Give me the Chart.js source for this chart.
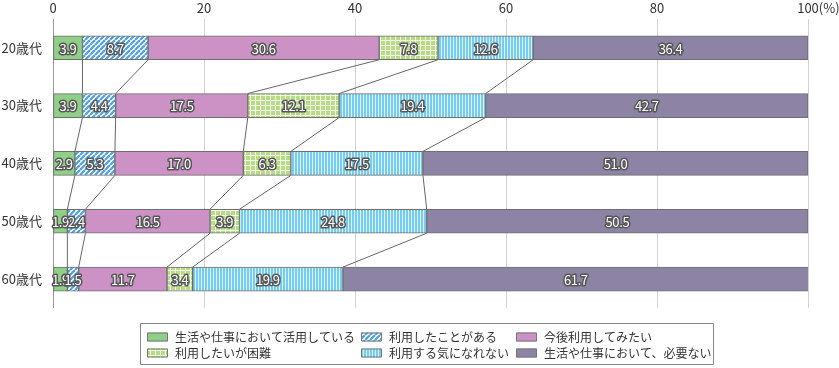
<!DOCTYPE html>
<html>
<head>
<meta charset="utf-8">
<script src="https://cdn.jsdelivr.net/npm/chart.js@4/dist/chart.umd.min.js"></script>
<style>
  body { margin: 0; background: #fff; }
  #wrap { width: 839px; height: 368px; }
</style>
</head>
<body>
<div id="wrap"><canvas id="c" width="839" height="368"></canvas></div>
<script>
// Data
const AGES = ['20歳代', '30歳代', '40歳代', '50歳代', '60歳代'];
const SERIES_NAMES = [
    '生活や仕事において活用している',
    '利用したことがある',
    '今後利用してみたい',
    '利用したいが困難',
    '利用する気になれない',
    '生活や仕事において、必要ない'
];
const USING = [3.9, 3.9, 2.9, 1.9, 1.9];
const USED_BEFORE = [8.7, 4.4, 5.3, 2.4, 1.5];
const WANT_TO_USE = [30.6, 17.5, 17.0, 16.5, 11.7];
const HARD_TO_USE = [7.8, 12.1, 6.3, 3.9, 3.4];
const NOT_WILLING = [12.6, 19.4, 17.5, 24.8, 19.9];
const NOT_NEEDED = [36.4, 42.7, 51.0, 50.5, 61.7];
const X_TICKS = [0, 20, 40, 60, 80, 100];

const FONT = '"Noto Sans CJK JP", "Noto Sans", sans-serif';

// Patterns
function makeTile(size, draw) {
    const c = document.createElement('canvas');
    c.width = size; c.height = size;
    const g = c.getContext('2d');
    draw(g, size);
    return document.getElementById('c').getContext('2d').createPattern(c, 'repeat');
}

const hatchBlue = makeTile(5, (g, s) => {
    g.fillStyle = '#ffffff';
    g.fillRect(0, 0, s, s);
    g.strokeStyle = '#4f9fe0';
    g.lineWidth = 2.2;
    [-s, 0, s].forEach(o => {
        g.beginPath();
        g.moveTo(o, s);
        g.lineTo(o + s, 0);
        g.stroke();
    });
});

const gridGreen = makeTile(5, (g, s) => {
    g.fillStyle = '#b8dc86';
    g.fillRect(0, 0, s, s);
    g.fillStyle = '#f1f9e6';
    g.fillRect(0, 0, s, 1);
    g.fillRect(0, 0, 1, s);
});

const stripeBlue = makeTile(3, (g, s) => {
    g.fillStyle = '#74ccf2';
    g.fillRect(0, 0, s, s);
    g.fillStyle = '#dff3fc';
    g.fillRect(0, 0, 1, s);
});

const FILLS = ['#8fcf87', hatchBlue, '#cd92c5', gridGreen, stripeBlue, '#8c83a5'];
const VALUES = [USING, USED_BEFORE, WANT_TO_USE, HARD_TO_USE, NOT_WILLING, NOT_NEEDED];

// Connector lines between bars
const connectorPlugin = {
    id: 'connectors',
    beforeDatasetsDraw(chart) {
        const ctx = chart.ctx;
        ctx.save();
        ctx.strokeStyle = '#666';
        ctx.lineWidth = 1;
        for (let k = 0; k < VALUES.length - 1; k++) {
            const bars = chart.getDatasetMeta(k).data;
            for (let i = 0; i < bars.length - 1; i++) {
                const a = bars[i], b = bars[i + 1];
                ctx.beginPath();
                ctx.moveTo(a.x, a.y + a.height / 2);
                ctx.lineTo(b.x, b.y - b.height / 2);
                ctx.stroke();
            }
        }
        ctx.restore();
    }
};

// Value labels, "(%)" unit and legend box
const overlayPlugin = {
    id: 'overlay',
    afterDraw(chart) {
        const ctx = chart.ctx;
        ctx.save();

        // value labels
        ctx.font = '13px ' + FONT;
        ctx.letterSpacing = '-0.4px';
        ctx.textAlign = 'center';
        ctx.textBaseline = 'middle';
        ctx.lineJoin = 'round';
        chart.data.datasets.forEach((ds, k) => {
            chart.getDatasetMeta(k).data.forEach((bar, i) => {
                const txt = ds.data[i].toFixed(1);
                const cx = (bar.x + bar.base) / 2;
                ctx.lineWidth = 3;
                ctx.strokeStyle = '#555';
                ctx.strokeText(txt, cx, bar.y + 1);
                ctx.fillStyle = '#fff';
                ctx.fillText(txt, cx, bar.y + 1);
            });
        });
        ctx.letterSpacing = '0px';

        // unit after the 100 tick
        const xs = chart.scales.x;
        ctx.font = '13px ' + FONT;
        ctx.fillStyle = '#333';
        ctx.textAlign = 'left';
        const w = ctx.measureText('100').width;
        ctx.fillText('(%)', xs.getPixelForValue(100) + w / 2, 8.5);

        // legend
        ctx.strokeStyle = '#888';
        ctx.lineWidth = 1;
        ctx.strokeRect(140.5, 323.5, 573, 41);
        const colX = [147, 361, 516];
        const rowY = [337, 353];
        ctx.font = '12px ' + FONT;
        ctx.textBaseline = 'middle';
        SERIES_NAMES.forEach((name, n) => {
            const x = colX[n % 3];
            const y = rowY[Math.floor(n / 3)];
            ctx.fillStyle = FILLS[n];
            ctx.fillRect(x, y - 4.5, 21, 9);
            ctx.strokeStyle = '#777';
            ctx.strokeRect(x + 0.5, y - 4, 20, 8);
            ctx.fillStyle = '#333';
            ctx.fillText(name, x + 28, y);
        });
        ctx.restore();
    }
};

new Chart(document.getElementById('c'), {
    type: 'bar',
    data: {
        labels: AGES,
        datasets: VALUES.map((vals, k) => ({
            label: SERIES_NAMES[k],
            data: vals,
            backgroundColor: FILLS[k],
            borderColor: '#6e6e6e',
            borderWidth: 1,
            borderSkipped: false,
            barThickness: 24
        }))
    },
    options: {
        indexAxis: 'y',
        responsive: false,
        animation: false,
        devicePixelRatio: 1,
        layout: { padding: { left: 0, right: 31, top: 0, bottom: 60 } },
        plugins: {
            legend: { display: false },
            tooltip: { enabled: false }
        },
        scales: {
            x: {
                position: 'top',
                stacked: true,
                min: 0,
                max: 100,
                afterBuildTicks: (scale) => { scale.ticks = X_TICKS.map(v => ({ value: v })); },
                afterFit: (scale) => { scale.height = 16; },
                ticks: {
                    padding: 3,
                    color: '#333',
                    font: { size: 13, family: FONT }
                },
                grid: {
                    drawTicks: false,
                    color: (c) => c.index === 0 ? '#999' : '#d2d2d2'
                },
                border: { display: false }
            },
            y: {
                stacked: true,
                afterFit: (scale) => { scale.width = 53; },
                ticks: {
                    padding: 11,
                    color: '#333',
                    font: { size: 13, family: FONT }
                },
                grid: { display: false, drawTicks: false },
                border: { display: false }
            }
        }
    },
    plugins: [connectorPlugin, overlayPlugin]
});
</script>
</body>
</html>
